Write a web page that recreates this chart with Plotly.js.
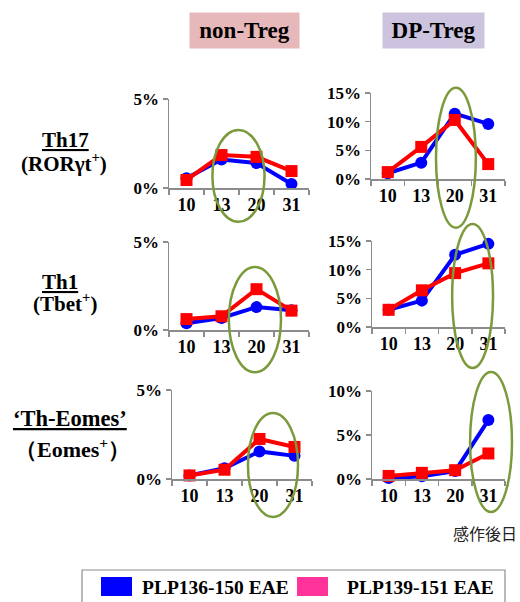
<!DOCTYPE html>
<html><head><meta charset="utf-8">
<script src="https://cdn.plot.ly/plotly-3.0.1.min.js"></script>
<style>html,body{margin:0;padding:0;background:#fff}#chart{width:520px;height:602px}</style>
</head><body><div id="chart"></div>
<script>
// ---- data ----
const days = ['10', '13', '20', '31'];
const seriesNames = ['PLP136-150 EAE', 'PLP139-151 EAE'];
const columnTitles = ['non-Treg', 'DP-Treg'];
const xAxisNote = '感作後日';

const th17NonTregBlue = [0.55, 1.6, 1.4, 0.22];
const th17NonTregRed = [0.45, 1.85, 1.75, 0.95];
const th17DpBlue = [1.0, 2.85, 11.4, 9.6];
const th17DpRed = [1.2, 5.6, 10.3, 2.6];
const th1NonTregBlue = [0.38, 0.68, 1.3, 1.12];
const th1NonTregRed = [0.62, 0.78, 2.32, 1.1];
const th1DpBlue = [3.0, 4.6, 12.6, 14.5];
const th1DpRed = [3.0, 6.4, 9.4, 11.1];
const eomesNonTregBlue = [0.2, 0.6, 1.55, 1.3];
const eomesNonTregRed = [0.2, 0.52, 2.25, 1.8];
const eomesDpBlue = [0.1, 0.3, 0.9, 6.7];
const eomesDpRed = [0.35, 0.7, 1.0, 2.9];

const yMaxNonTreg = 5;
const yTicksNonTreg = [0, 5];
const yMaxDp = 15;
const yTicksDp = [0, 5, 10, 15];
const yMaxEomesDp = 10;
const yTicksEomesDp = [0, 5, 10];

// highlighted region per panel: [idxFrom, idxTo, valFrom, valTo] in category index / percent
const highlight1 = [0.74, 2.23, -1.9, 3.26];
const highlight2 = [1.44, 2.63, -8.5, 15.9];
const highlight3 = [1.21, 2.70, -2.4, 3.58];
const highlight4 = [1.91, 3.14, -7.15, 17.97];
const highlight5 = [1.67, 3.10, -2.13, 3.71];
const highlight6 = [2.45, 3.71, -3.75, 12.16];

// ---- layout helpers ----
const W = 520, H = 602;
const px = v => v / W;
const py = v => 1 - v / H;

const panels = [
  {blue: th17NonTregBlue, red: th17NonTregRed, ymax: yMaxNonTreg, yt: yTicksNonTreg, xb: [169, 309], yb: [99, 188], hl: highlight1},
  {blue: th17DpBlue, red: th17DpRed, ymax: yMaxDp, yt: yTicksDp, xb: [371, 505], yb: [93, 179], hl: highlight2},
  {blue: th1NonTregBlue, red: th1NonTregRed, ymax: yMaxNonTreg, yt: yTicksNonTreg, xb: [169, 309], yb: [242, 330], hl: highlight3},
  {blue: th1DpBlue, red: th1DpRed, ymax: yMaxDp, yt: yTicksDp, xb: [372, 505], yb: [241, 327], hl: highlight4},
  {blue: eomesNonTregBlue, red: eomesNonTregRed, ymax: yMaxNonTreg, yt: yTicksNonTreg, xb: [172, 312], yb: [390, 479], hl: highlight5},
  {blue: eomesDpBlue, red: eomesDpRed, ymax: yMaxEomesDp, yt: yTicksEomesDp, xb: [372, 505], yb: [391, 479], hl: highlight6}
];

const serif = '"Liberation Serif", "Times New Roman", Times, serif';
const axisGray = '#8c8c8c';
const ellipseColor = '#7a9a3c';

const data = [];
const layout = {
  width: W, height: H,
  margin: {l: 0, r: 0, t: 0, b: 0},
  paper_bgcolor: '#fff', plot_bgcolor: 'rgba(0,0,0,0)',
  showlegend: false,
  font: {family: serif},
  shapes: [], annotations: []
};

panels.forEach((p, i) => {
  const n = i + 1;
  const xa = 'x' + (n === 1 ? '' : n), ya = 'y' + (n === 1 ? '' : n);
  data.push({x: days, y: p.blue, xaxis: xa, yaxis: ya, type: 'scatter', mode: 'lines+markers',
    name: seriesNames[0], cliponaxis: false,
    line: {color: '#0000ff', width: 4}, marker: {symbol: 'circle', size: 12, color: '#0000ff'}});
  data.push({x: days, y: p.red, xaxis: xa, yaxis: ya, type: 'scatter', mode: 'lines+markers',
    name: seriesNames[1], cliponaxis: false,
    line: {color: '#ff0000', width: 4}, marker: {symbol: 'square', size: 12, color: '#ff0000'}});
  layout['xaxis' + (n === 1 ? '' : n)] = {
    domain: [px(p.xb[0]), px(p.xb[1])], anchor: ya, type: 'category',
    range: [-0.5, 3.5], showline: true, linecolor: axisGray, linewidth: 1.5,
    ticks: 'outside', tickson: 'boundaries', ticklen: 5, tickcolor: axisGray, tickwidth: 1.5,
    showgrid: false, zeroline: false, fixedrange: true,
    tickfont: {family: serif, size: 18, color: '#000', weight: 'bold'}
  };
  layout['yaxis' + (n === 1 ? '' : n)] = {
    domain: [py(p.yb[1]), py(p.yb[0])], anchor: xa,
    range: [0, p.ymax], tickvals: p.yt, ticktext: p.yt.map(v => v + '%'),
    showline: true, linecolor: axisGray, linewidth: 1.5,
    ticks: 'outside', ticklen: 5, tickcolor: axisGray, tickwidth: 1.5,
    showgrid: false, zeroline: false, fixedrange: true,
    tickfont: {family: serif, size: 17, color: '#000', weight: 'bold'}
  };
  const h = p.hl;
  layout.shapes.push({
    type: 'circle', xref: xa + ' domain', yref: ya + ' domain',
    x0: (h[0] + 0.5) / 4, x1: (h[1] + 0.5) / 4,
    y0: h[2] / p.ymax, y1: h[3] / p.ymax,
    line: {color: ellipseColor, width: 2.5}, fillcolor: 'rgba(0,0,0,0)'
  });
});

// column headers
const headerBoxes = [[190, 299, '#e6b8b9'], [383, 484, '#ccc4de']];
headerBoxes.forEach((b, i) => {
  layout.annotations.push({
    xref: 'paper', yref: 'paper', x: px((b[0] + b[1]) / 2), y: py(30.5),
    xanchor: 'center', yanchor: 'middle', showarrow: false,
    text: '<b>' + columnTitles[i] + '</b>', bgcolor: b[2], borderpad: 0,
    width: b[1] - b[0], height: 35,
    font: {family: serif, size: 23, color: '#000'}
  });
});

// row labels
const rowLabels = [
  ['<b><u>Th17</u></b>', 65, 140, 21], ['<b>(RORγt<sup>+</sup>)</b>', 64, 162, 21],
  ['<b><u>Th1</u></b>', 60, 282, 21], ['<b>(Tbet<sup>+</sup>)</b>', 65, 302, 21],
  ['<b><u>‘Th-Eomes’</u></b>', 70, 419, 22.5], ['<b>（Eomes<sup>+</sup>）</b>', 72, 448, 22]
];
rowLabels.forEach(r => {
  layout.annotations.push({
    xref: 'paper', yref: 'paper', x: px(r[1]), y: py(r[2]),
    xanchor: 'center', yanchor: 'middle', showarrow: false, text: r[0],
    font: {family: serif, size: r[3], color: '#000'}
  });
});

// x-axis note
layout.annotations.push({
  xref: 'paper', yref: 'paper', x: px(485), y: py(533), xanchor: 'center', yanchor: 'middle',
  showarrow: false, text: xAxisNote,
  font: {family: '"Noto Sans CJK JP", sans-serif', size: 16, color: '#222'}
});

// custom legend
layout.shapes.push({type: 'rect', xref: 'paper', yref: 'paper', x0: px(82), x1: px(505), y0: py(612), y1: py(570),
  line: {color: '#8c8c8c', width: 1.2}, fillcolor: 'rgba(0,0,0,0)'});
const legendItems = [[101, 132, '#0000ff', 140], [297, 328, '#ff3399', 345]];
legendItems.forEach((l, i) => {
  layout.shapes.push({type: 'rect', xref: 'paper', yref: 'paper', x0: px(l[0]), x1: px(l[1]), y0: py(596), y1: py(577),
    line: {width: 0}, fillcolor: l[2]});
  layout.annotations.push({xref: 'paper', yref: 'paper', x: px(l[3]), y: py(587), xanchor: 'left', yanchor: 'middle',
    showarrow: false, text: '<b>' + seriesNames[i] + '</b>', font: {family: serif, size: 19.5, color: '#000'}});
});

Plotly.newPlot('chart', data, layout, {displayModeBar: false, staticPlot: true});
</script>
</body></html>
